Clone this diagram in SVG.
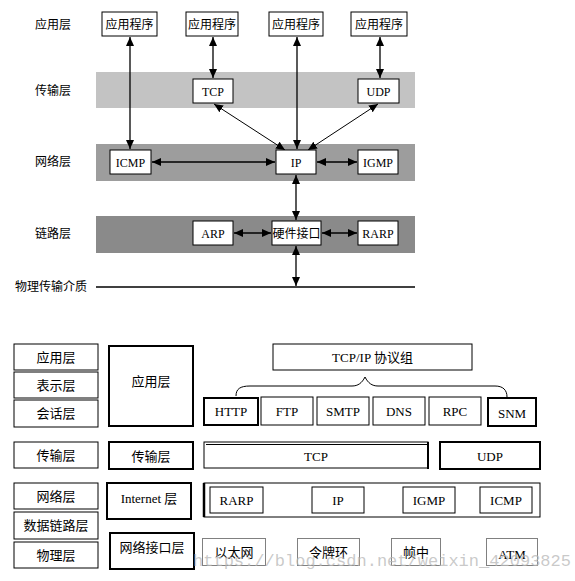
<svg xmlns="http://www.w3.org/2000/svg" width="575" height="581" viewBox="0 0 575 581">
<defs>
<marker id="ah" markerUnits="userSpaceOnUse" markerWidth="9" markerHeight="8" refX="9" refY="4" orient="auto-start-reverse"><path d="M0,0 L9,4 L0,8 z" fill="#000"/></marker>
<style>
.bx{fill:#fff;stroke:#000;stroke-width:1}
.tk{fill:#fff;stroke:#000;stroke-width:2}
.dt{fill:#fff;stroke:#000;stroke-width:1;stroke-dasharray:1 1}
.t{font-family:"Liberation Serif","Noto Sans CJK SC",serif;font-size:12px;fill:#000;text-anchor:middle}
.lb{font-family:"Liberation Serif","Noto Sans CJK SC",serif;font-size:12px;fill:#000;text-anchor:middle}
.b{font-family:"Liberation Serif","Noto Sans CJK SC",serif;font-size:13px;fill:#000;text-anchor:middle}
.c{stroke:#000;stroke-width:1.3;fill:none;marker-start:url(#ah);marker-end:url(#ah)}
.d{stroke:#000;stroke-width:1;fill:none;marker-start:url(#ah);marker-end:url(#ah)}
</style>
</defs>
<rect width="575" height="581" fill="#fff"/>

<g id="bands">
<rect x="96" y="72" width="319" height="36" fill="#c3c3c3"/>
<rect x="96" y="144" width="319" height="37" fill="#9d9d9d"/>
<rect x="96" y="216" width="319" height="37" fill="#8a8a8a"/>
<line x1="96" y1="287" x2="415" y2="287" stroke="#000" stroke-width="1.3"/>
</g>

<g id="layer-labels">
<text class="lb" x="53" y="29">应用层</text>
<text class="lb" x="53" y="95">传输层</text>
<text class="lb" x="53" y="166">网络层</text>
<text class="lb" x="53" y="238">链路层</text>
<text class="lb" x="51" y="291">物理传输介质</text>
</g>

<g id="connectors">
<line class="c" x1="130" y1="37" x2="130" y2="149"/>
<line class="c" x1="213" y1="37" x2="213" y2="78"/>
<line class="c" x1="297" y1="37" x2="297" y2="149"/>
<line class="c" x1="380" y1="37" x2="380" y2="78"/>
<line class="d" x1="214" y1="104" x2="285" y2="150"/>
<line class="d" x1="378" y1="104" x2="308" y2="150"/>
<line class="c" x1="152" y1="162" x2="275" y2="162"/>
<line class="c" x1="317" y1="162" x2="357" y2="162"/>
<line class="c" x1="296" y1="175" x2="296" y2="220"/>
<line class="c" x1="234" y1="233" x2="271" y2="233"/>
<line class="c" x1="322" y1="233" x2="357" y2="233"/>
<line class="c" x1="296" y1="246" x2="296" y2="286"/>
</g>

<g id="app1"><rect class="bx" x="102" y="12" width="55" height="24"/><text class="t" x="129.5" y="28.5">应用程序</text></g>
<g id="app2"><rect class="bx" x="186" y="12" width="52" height="24"/><text class="t" x="212" y="28.5">应用程序</text></g>
<g id="app3"><rect class="bx" x="269" y="12" width="54" height="24"/><text class="t" x="296" y="28.5">应用程序</text></g>
<g id="app4"><rect class="bx" x="351" y="12" width="56" height="24"/><text class="t" x="379" y="28.5">应用程序</text></g>
<g id="tcp"><rect class="bx" x="193" y="79" width="40" height="24"/><text class="t" x="213" y="95.5">TCP</text></g>
<g id="udp"><rect class="bx" x="358" y="79" width="41" height="24"/><text class="t" x="378.5" y="95.5">UDP</text></g>
<g id="icmp"><rect class="bx" x="110" y="150" width="41" height="24"/><text class="t" x="130.5" y="166.5">ICMP</text></g>
<g id="ip"><rect class="bx" x="276" y="150" width="40" height="24"/><text class="t" x="296" y="166.5">IP</text></g>
<g id="igmp"><rect class="bx" x="358" y="150" width="40" height="24"/><text class="t" x="378" y="166.5">IGMP</text></g>
<g id="arp"><rect class="bx" x="193" y="221" width="40" height="24"/><text class="t" x="213" y="237.5">ARP</text></g>
<g id="hw"><rect class="bx" x="272" y="221" width="49" height="24"/><text class="t" x="296.5" y="237.5">硬件接口</text></g>
<g id="rarp"><rect class="bx" x="358" y="221" width="40" height="24"/><text class="t" x="378" y="237.5">RARP</text></g>

<g id="osi">
<rect class="bx" x="14" y="344" width="84" height="26"/><text class="b" x="56" y="362">应用层</text>
<rect class="bx" x="14" y="372" width="84" height="26"/><text class="b" x="56" y="390">表示层</text>
<rect class="bx" x="14" y="400" width="84" height="27"/><text class="b" x="56" y="418">会话层</text>
<rect class="bx" x="14" y="442" width="84" height="26"/><text class="b" x="56" y="460">传输层</text>
<rect class="bx" x="14" y="483" width="84" height="26"/><text class="b" x="56" y="501">网络层</text>
<rect class="bx" x="14" y="512" width="84" height="27"/><text class="b" x="56" y="530">数据链路层</text>
<rect class="bx" x="14" y="542" width="84" height="26"/><text class="b" x="56" y="560">物理层</text>
</g>

<g id="tcpip-layers">
<rect class="tk" x="109" y="346" width="84" height="80"/><text class="b" x="151" y="386">应用层</text>
<rect class="tk" x="109" y="442" width="84" height="27"/><text class="b" x="151" y="461">传输层</text>
<rect class="tk" x="107" y="483" width="84" height="36"/><text class="b" x="149" y="503">Internet 层</text>
<rect class="tk" x="110" y="533" width="84" height="36"/><text class="b" x="152" y="552">网络接口层</text>
</g>

<g id="suite">
<rect class="bx" x="273" y="344" width="199" height="26"/><text class="b" x="372.5" y="362">TCP/IP 协议组</text>
<path d="M236,396 C236,389 240,386 250,386 L352,386 C358,386 362,383 365,377 C368,383 372,386 378,386 L495,386 C503,386 507,390 507,397" fill="none" stroke="#000" stroke-width="1"/>
</g>

<g id="apps">
<rect class="tk" x="204" y="398" width="54" height="27"/><text class="b" x="231" y="416">HTTP</text>
<rect class="bx" x="261" y="397" width="52" height="28"/><text class="b" x="287" y="416">FTP</text>
<rect class="bx" x="317" y="397" width="52" height="28"/><text class="b" x="343" y="416">SMTP</text>
<rect class="bx" x="373" y="397" width="52" height="28"/><text class="b" x="399" y="416">DNS</text>
<rect class="bx" x="429" y="397" width="52" height="28"/><text class="b" x="455" y="416">RPC</text>
<rect class="tk" x="488" y="398" width="48" height="28"/><text class="b" x="512" y="418">SNM</text>
</g>

<g id="transport">
<rect class="bx" x="204" y="442" width="224" height="26"/>
<line x1="206" y1="444.5" x2="428" y2="444.5" stroke="#000" stroke-width="1"/>
<line x1="428" y1="442" x2="428" y2="469" stroke="#000" stroke-width="2"/>
<text class="b" x="316" y="461">TCP</text>
<rect class="tk" x="440" y="442" width="100" height="27"/><text class="b" x="490" y="461">UDP</text>
</g>

<g id="internet">
<rect class="bx" x="204" y="483" width="336" height="34"/>
<line x1="204" y1="483" x2="204" y2="517" stroke="#000" stroke-width="2.5"/>
<rect class="bx" x="210" y="487" width="53" height="26"/><text class="b" x="236.5" y="505">RARP</text>
<rect class="bx" x="312" y="487" width="52" height="26"/><text class="b" x="338" y="505">IP</text>
<rect class="bx" x="403" y="487" width="52" height="26"/><text class="b" x="429" y="505">IGMP</text>
<rect class="bx" x="480" y="487" width="52" height="26"/><text class="b" x="506" y="505">ICMP</text>
</g>

<g id="netif">
<rect class="dt" x="202.5" y="538.5" width="63" height="27"/><text class="b" x="234" y="557">以太网</text>
<rect class="dt" x="297.5" y="538.5" width="62" height="27"/><text class="b" x="328.5" y="557">令牌环</text>
<rect class="dt" x="391.5" y="538.5" width="49" height="27"/><text class="b" x="416" y="557">帧中</text>
<rect class="dt" x="486.5" y="538.5" width="51" height="27"/><text class="b" x="512" y="559">ATM</text>
</g>

<text x="193" y="566" font-family="Liberation Mono, monospace" font-size="17" textLength="378" lengthAdjust="spacingAndGlyphs" fill="#b8b8b8" fill-opacity="0.75">https://blog.csdn.net/weixin_42093825</text>
</svg>
